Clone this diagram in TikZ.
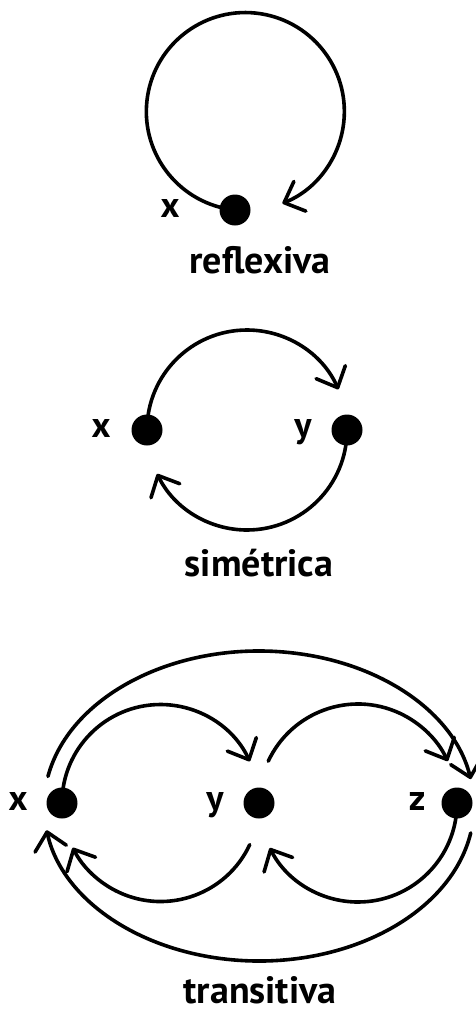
\documentclass[tikz,border=0pt]{standalone}
\usepackage{fontspec}
\setmainfont{PT Sans}
\usetikzlibrary{arrows.meta,calc}
\begin{document}
\begin{tikzpicture}[x=1pt,y=1pt,
  dot/.style={circle,fill=black,inner sep=0pt,minimum size=31pt},
  lab/.style={anchor=base,inner sep=0pt,font=\fontsize{36}{40}\selectfont\bfseries},
  title/.style={anchor=base,inner sep=0pt,font=\fontsize{38}{42}\selectfont\bfseries},
  arr/.style={line width=3.6pt,line cap=round,-{Straight Barb[length=17pt,width=32pt,round]}}]
\fill[white] (0,0) rectangle (476,-1015);
\useasboundingbox (0,0) rectangle (476,-1015);
% reflexiva
\node[dot] (r1) at (235,-210) {};
\node[lab] (rx) at (170,-217) {x};
\node[title] (rt) at (260,-273) {reflexiva};
\draw[arr] (r1.center) arc[start angle=264,end angle=-68,radius=99];
% simetrica
\node[dot] (s1) at (147,-430) {};
\node[dot] (s2) at (347,-430) {};
\node[lab] (sx) at (101,-437) {x};
\node[lab] (sy) at (303,-437) {y};
\node[title] (st) at (259,-576) {simétrica};
\draw[arr] (s1.center) arc[start angle=180,end angle=24,radius=100];
\draw[arr] (s2.center) arc[start angle=0,end angle=-154,radius=100];
% transitiva
\node[dot] (t1) at (62,-803) {};
\node[dot] (t2) at (259,-803) {};
\node[dot] (t3) at (457,-803) {};
\node[lab] (tx) at (18,-810) {x};
\node[lab] (ty) at (215,-810) {y};
\node[lab] (tz) at (417,-810) {z};
\node[title] (tt) at (260,-1003) {transitiva};
\coordinate (c1) at ($(t1)!0.5!(t2)$);
\coordinate (c2) at ($(t2)!0.5!(t3)$);
\coordinate (ce) at (259,-806);
\draw[arr] (t1.center) arc[start angle=180,end angle=25,radius=98.5];
\draw[arr] ($(c1)+(-25:98.5)$) arc[start angle=-25,end angle=-153,radius=98.5];
\draw[arr] ($(c2)+(155:99)$) arc[start angle=155,end angle=25,radius=99];
\draw[arr] (t3.center) arc[start angle=0,end angle=-153,radius=99];
\draw[arr] ($(ce)+(169:215 and 155)$) arc[start angle=169,end angle=10,x radius=215,y radius=155];
\draw[arr] ($(ce)+(-10:215 and 155)$) arc[start angle=-10,end angle=-171,x radius=215,y radius=155];
\end{tikzpicture}
\end{document}
